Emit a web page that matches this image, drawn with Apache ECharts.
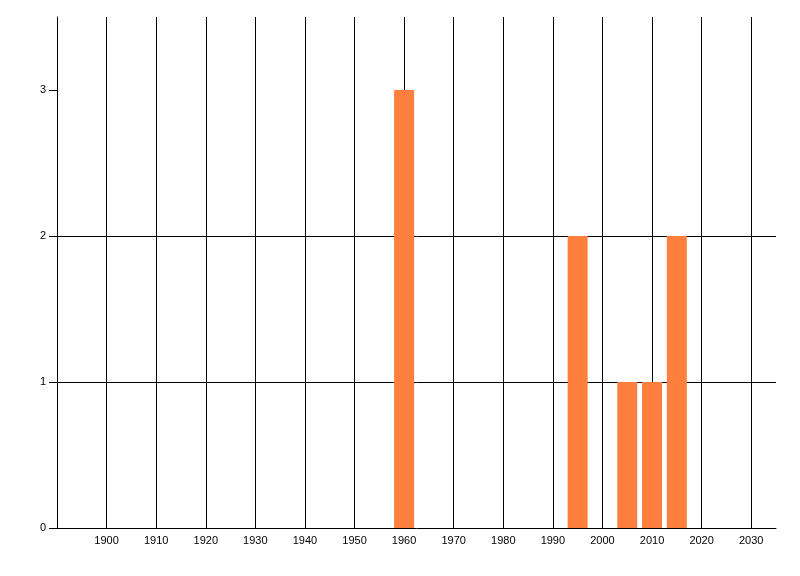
<!DOCTYPE html>
<html>
<head>
<meta charset="utf-8">
<script src="https://cdn.jsdelivr.net/npm/echarts@6/dist/echarts.min.js"></script>
<style>html,body{margin:0;padding:0;background:#fff}#c{width:800px;height:576px}</style>
</head>
<body>
<div id="c"></div>
<script>
const years = [1960, 1995, 2005, 2010, 2015];
const counts = [3, 2, 1, 1, 2];
const xTickLabels = [1900, 1910, 1920, 1930, 1940, 1950, 1960, 1970, 1980, 1990, 2000, 2010, 2020, 2030];
const yTickLabels = [0, 1, 2, 3];

const chart = echarts.init(document.getElementById('c'));
const font = { fontFamily: 'Liberation Sans', fontSize: 11, color: '#000' };
chart.setOption({
  animation: false,
  backgroundColor: '#fff',
  grid: { left: 57, right: 24, top: 17, bottom: 48, containLabel: false },
  xAxis: {
    type: 'value', min: 1890, max: 2035, interval: 10,
    axisLine: { show: true, lineStyle: { color: '#000', width: 1 } },
    axisTick: { show: false },
    axisLabel: Object.assign({ margin: 7, customValues: xTickLabels, formatter: v => String(v) }, font),
    splitLine: { show: true, showMinLine: true, showMaxLine: false, lineStyle: { color: '#000', width: 1 } }
  },
  yAxis: {
    type: 'value', min: 0, max: 3.5, interval: 1,
    axisLine: { show: true, lineStyle: { color: '#000', width: 1 } },
    axisTick: { show: true, length: 8, customValues: yTickLabels, lineStyle: { color: '#000' } },
    axisLabel: Object.assign({ margin: 11, customValues: yTickLabels, formatter: v => String(v) }, font),
    splitLine: { show: true, showMinLine: false, showMaxLine: false, lineStyle: { color: '#000', width: 1 } }
  },
  series: [{
    type: 'bar',
    data: years.map((y, i) => [y, counts[i]]),
    barWidth: 20,
    itemStyle: { color: '#FF7F3F' },
    z: 1
  }]
});
</script>
</body>
</html>
